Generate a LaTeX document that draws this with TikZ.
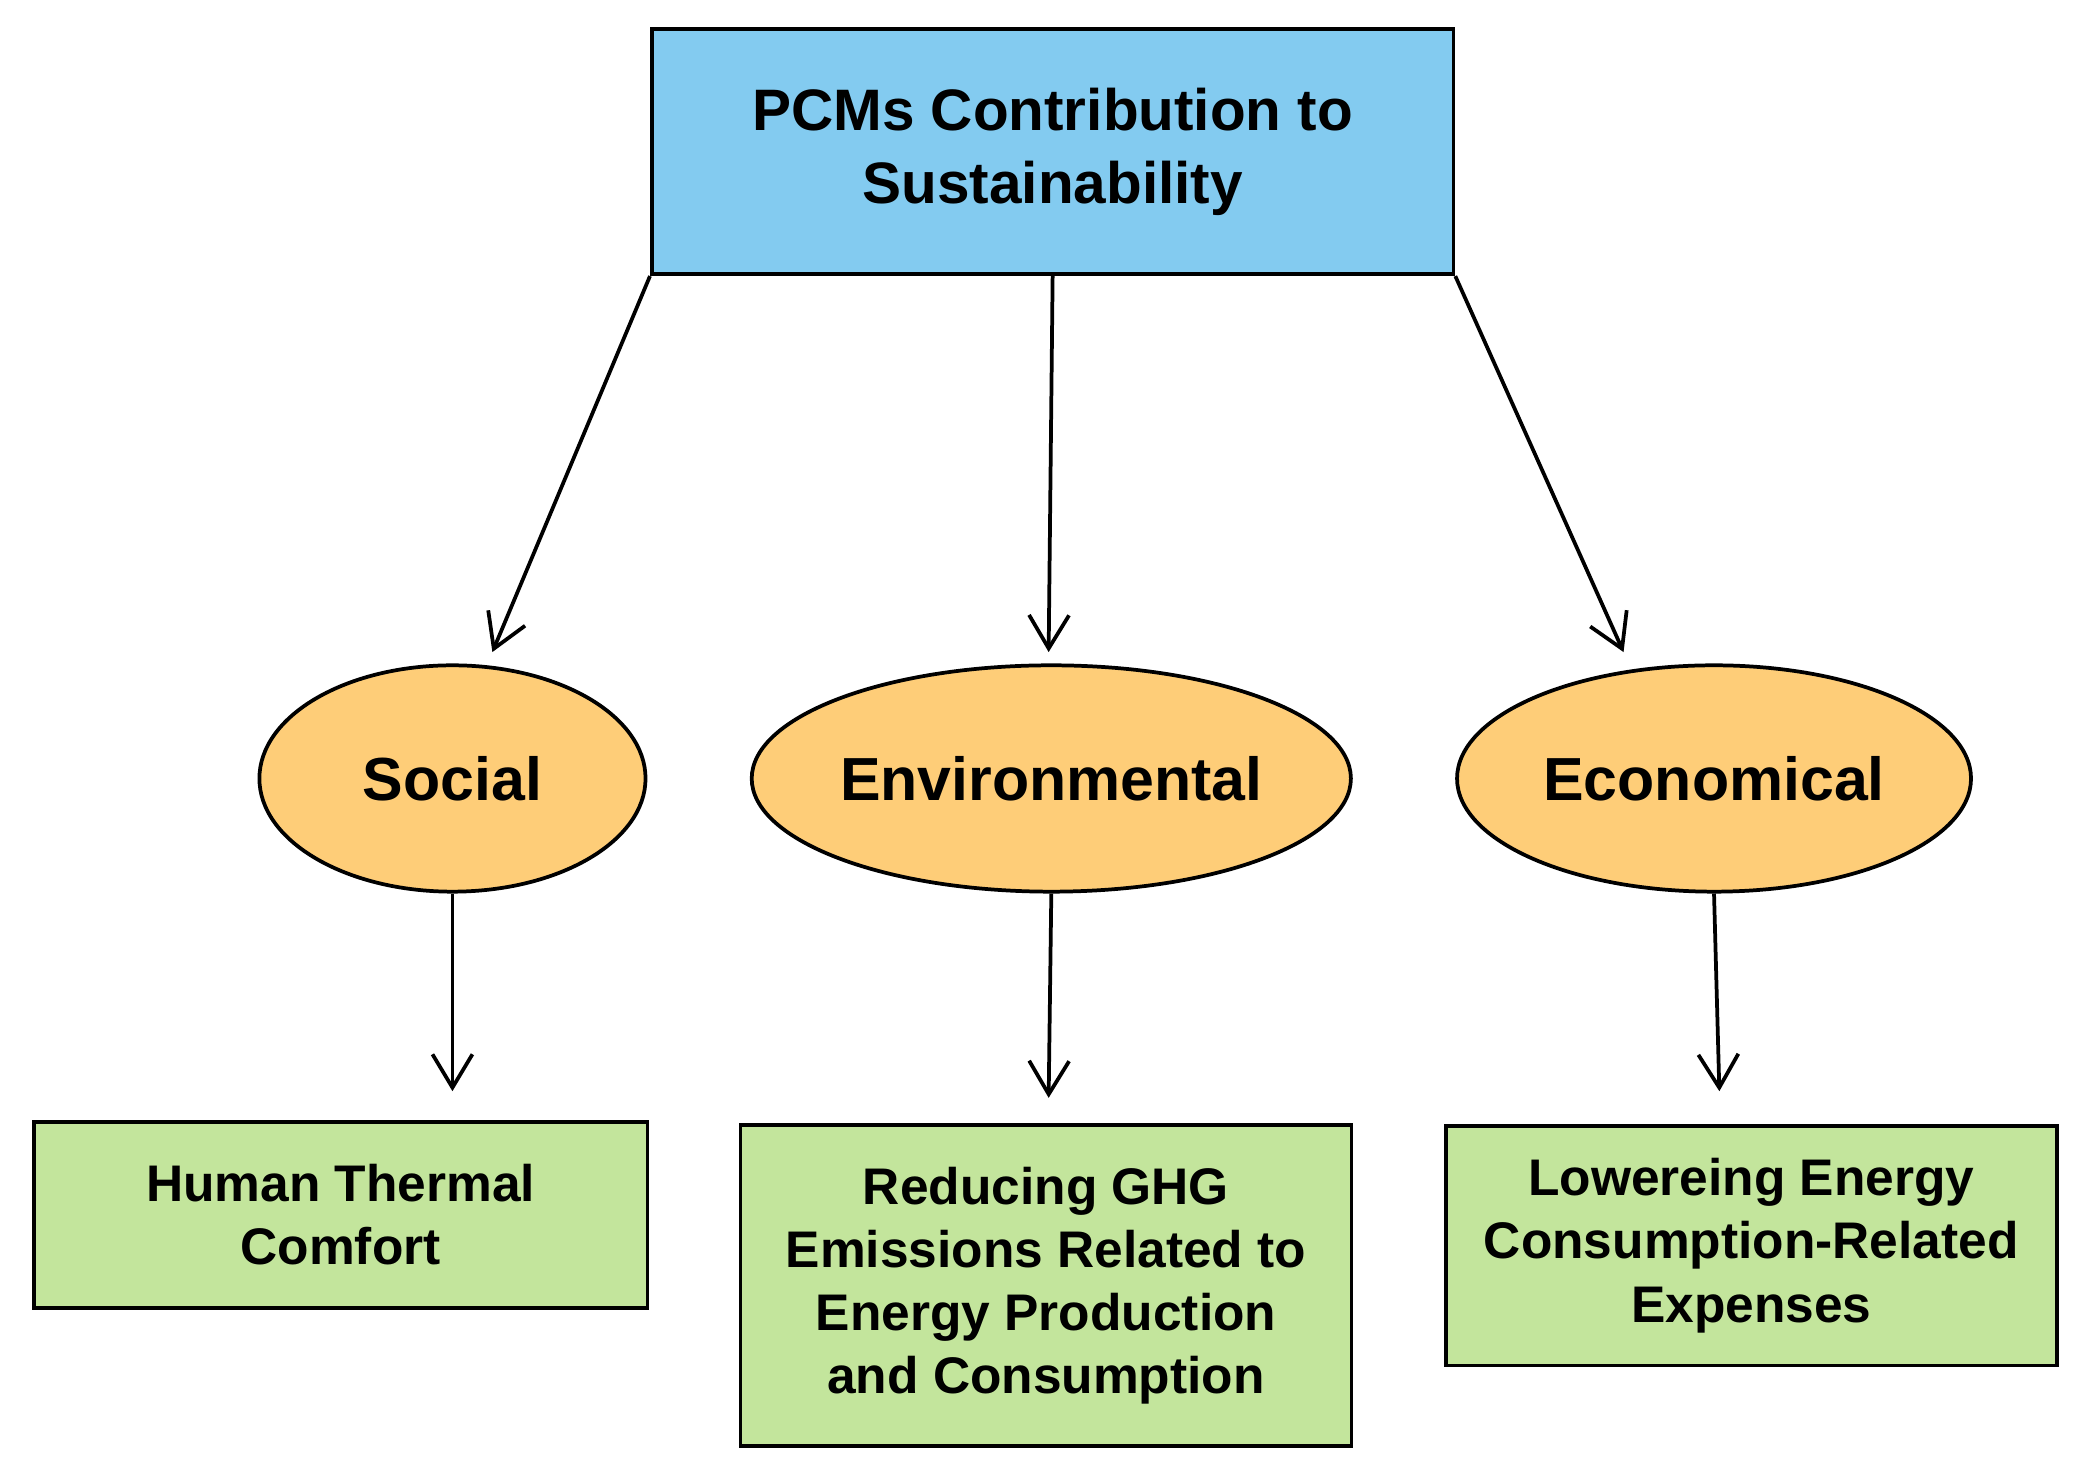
\documentclass[tikz,border=0pt]{standalone}
\usepackage{fontspec}
\setmainfont{Liberation Sans}
\usetikzlibrary{shapes.geometric, arrows.meta}
\definecolor{topblue}{HTML}{83CBF0}
\definecolor{aspect}{HTML}{FECD78}
\definecolor{effect}{HTML}{C3E59C}
\tikzstyle{head}=[rectangle, draw, fill=topblue, thick, inner sep=0pt, font=\bfseries\fontsize{12.5}{15.5}\selectfont, align=center]
\tikzstyle{aspect}=[ellipse, draw, fill=aspect, thick, inner sep=-12pt, font=\bfseries\fontsize{13}{16}\selectfont]
\tikzstyle{effect}=[rectangle, draw, fill=effect, thick, inner sep=0pt, font=\bfseries\fontsize{11}{13.5}\selectfont, align=center]
\begin{document}
\begin{tikzpicture}[x=0.01cm, y=-0.01cm, thick, >={Straight Barb[length=2.5mm,width=3mm]}]
    \useasboundingbox (0,0) rectangle (1560,1107);
    \node[head, minimum width=6.02cm, minimum height=1.84cm] (pcm) at (791,114) {PCMs Contribution to\\Sustainability};
    \node[aspect, minimum width=2.9cm, minimum height=1.7cm] (soc) at (340,585) {Social};
    \node[aspect, minimum width=4.5cm, minimum height=1.7cm] (env) at (790,585) {Environmental};
    \node[aspect, minimum width=3.86cm, minimum height=1.7cm] (eco) at (1288,585) {Economical};
    \node[effect, minimum width=4.61cm, minimum height=1.4cm] (hum) at (256,913) {Human Thermal\\Comfort};
    \node[effect, minimum width=4.59cm, minimum height=2.41cm] (ghg) at (786,966) {Reducing GHG\\Emissions Related to\\Energy Production\\and Consumption};
    \node[effect, minimum width=4.59cm, minimum height=1.8cm] (exp) at (1316,936) {Lowereing Energy\\Consumption-Related\\Expenses};
    \coordinate (a1) at (370,490);
    \coordinate (a2) at (788,490);
    \coordinate (a3) at (1220,490);
    \coordinate (b1) at (340,820);
    \coordinate (b2) at (788,825);
    \coordinate (b3) at (1292,820);
    \draw[->] (pcm.south west) -- (a1);
    \draw[->] (pcm.south) -- (a2);
    \draw[->] (pcm.south east) -- (a3);
    \draw[->] (soc.south) -- (b1);
    \draw[->] (env.south) -- (b2);
    \draw[->] (eco.south) -- (b3);
\end{tikzpicture}
\end{document}
